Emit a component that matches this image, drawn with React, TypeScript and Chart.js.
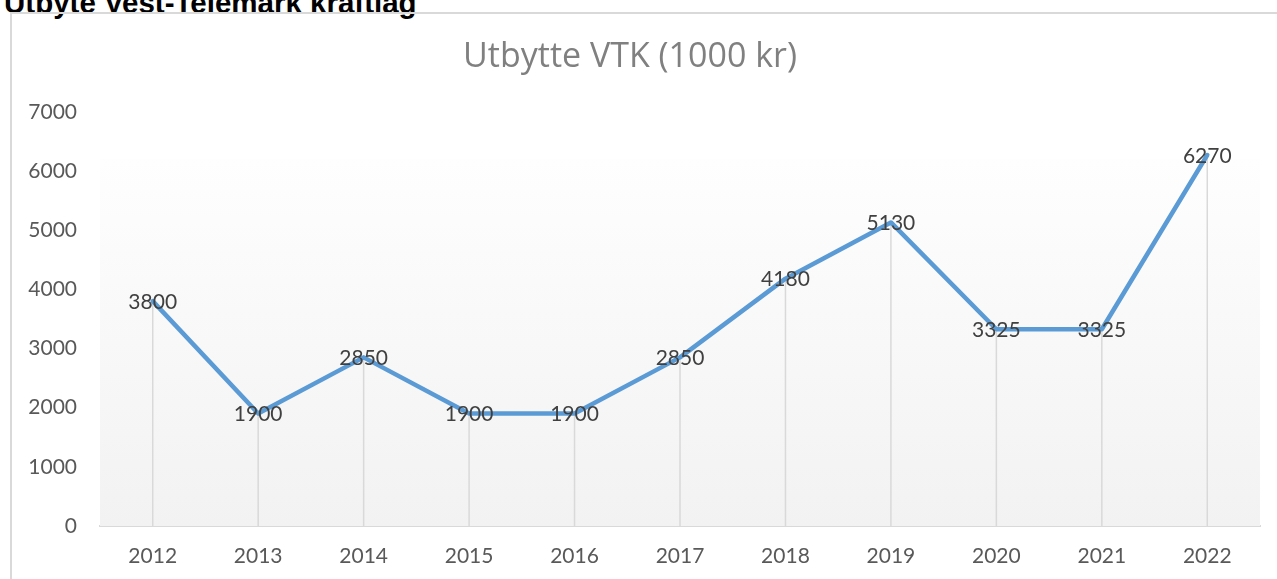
import React, { useEffect, useRef } from "react";
import { Chart, registerables } from "chart.js";

Chart.register(...registerables);

const HEADING = "Utbyte Vest-Telemark kraftlag";
const CHART_TITLE = "Utbytte VTK (1000 kr)";
const years = ["2012", "2013", "2014", "2015", "2016", "2017", "2018", "2019", "2020", "2021", "2022"];
const dividend = [3800, 1900, 2850, 1900, 1900, 2850, 4180, 5130, 3325, 3325, 6270];
const yMin = 0;
const yMax = 7000;
const yStep = 1000;

const FONT = "Lato, 'Open Sans', sans-serif";
const TITLE_FONT = "'Open Sans', Lato, sans-serif";

const bgPlugin = {
  id: "bgGradient",
  beforeDatasetsDraw(chart: any) {
    const { ctx, chartArea, scales } = chart;
    const top = scales.y.getPixelForValue(6200);
    const bottom = chartArea.bottom;
    const g = ctx.createLinearGradient(0, top, 0, bottom);
    g.addColorStop(0, "#fefefe");
    g.addColorStop(1, "#f2f2f2");
    ctx.save();
    ctx.fillStyle = g;
    ctx.fillRect(chartArea.left, top, chartArea.right - chartArea.left, bottom - top);
    // drop lines
    const meta = chart.getDatasetMeta(0);
    ctx.strokeStyle = "#d9d9d9";
    ctx.lineWidth = 1.5;
    meta.data.forEach((p: any) => {
      ctx.beginPath();
      ctx.moveTo(p.x, p.y);
      ctx.lineTo(p.x, bottom);
      ctx.stroke();
    });
    ctx.restore();
  },
};

const labelPlugin = {
  id: "pointLabels",
  afterDatasetsDraw(chart: any) {
    const { ctx } = chart;
    const meta = chart.getDatasetMeta(0);
    ctx.save();
    ctx.font = `21px ${FONT}`;
    ctx.fillStyle = "#404040";
    ctx.textAlign = "center";
    ctx.textBaseline = "middle";
    meta.data.forEach((p: any, i: number) => {
      ctx.fillText(String(dividend[i]), p.x, p.y + 1);
    });
    ctx.restore();
  },
};

export default function App() {
  const ref = useRef<HTMLCanvasElement>(null);

  useEffect(() => {
    if (!ref.current) return;
    const chart = new Chart(ref.current, {
      type: "line",
      data: {
        labels: years,
        datasets: [
          {
            data: dividend,
            borderColor: "#5b9bd5",
            borderWidth: 4.5,
            pointRadius: 0,
            tension: 0,
            borderJoinStyle: "round",
            borderCapStyle: "round",
            fill: false,
          },
        ],
      },
      options: {
        animation: false,
        responsive: false,
        maintainAspectRatio: false,
        layout: { padding: { left: 0, right: 17, top: 0, bottom: 0 } },
        plugins: {
          legend: { display: false },
          tooltip: { enabled: false },
          title: {
            display: true,
            text: CHART_TITLE,
            color: "#808080",
            font: { family: TITLE_FONT, size: 34, weight: "normal" },
            padding: { top: 37, bottom: 34 },
          },
        },
        scales: {
          x: {
            offset: true,
            grid: { display: false, drawTicks: false },
            border: { display: true, color: "#d9d9d9", width: 2 },
            ticks: {
              color: "#595959",
              font: { family: FONT, size: 21 },
              padding: 18,
              maxRotation: 0,
            },
            afterFit: (s: any) => {
              s.height = 53;
            },
          },
          y: {
            min: yMin,
            max: yMax,
            grid: { display: false, drawTicks: false },
            border: { display: false },
            ticks: {
              stepSize: yStep,
              color: "#595959",
              font: { family: FONT, size: 21 },
              padding: 23,
              callback: (v: any) => String(v),
            },
            afterFit: (s: any) => {
              s.width = 100;
            },
          },
        },
      },
      plugins: [bgPlugin, labelPlugin],
    });
    return () => chart.destroy();
  }, []);

  return (
    <div
      style={{
        position: "fixed",
        left: 0,
        top: 0,
        width: 1277,
        height: 579,
        overflow: "hidden",
        background: "#ffffff",
      }}
    >
      <div
        style={{
          position: "absolute",
          left: 4,
          top: -12,
          fontFamily: "'Liberation Sans', Arial, sans-serif",
          fontWeight: "bold",
          fontSize: 29.5,
          lineHeight: "29px",
          color: "#000000",
          whiteSpace: "nowrap",
        }}
      >
        {HEADING}
      </div>
      <div
        style={{
          position: "absolute",
          left: 10,
          top: 12,
          width: 1300,
          height: 600,
          border: "2px solid #d9d9d9",
          boxSizing: "border-box",
        }}
      />
      <canvas
        ref={ref}
        width={1277}
        height={579}
        style={{ position: "absolute", left: 0, top: 0, width: 1277, height: 579 }}
      />
    </div>
  );
}
